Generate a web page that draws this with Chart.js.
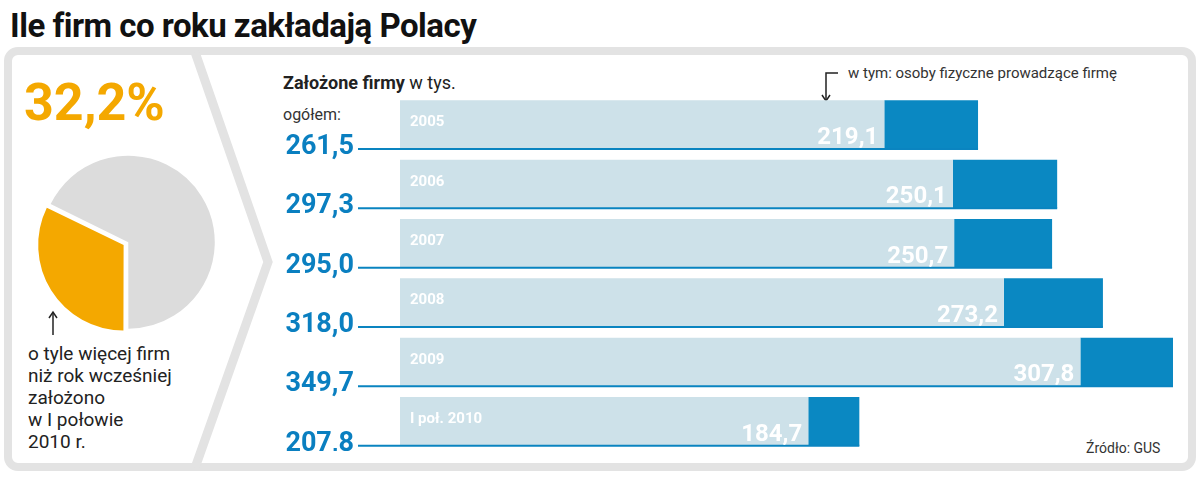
<!DOCTYPE html>
<html><head><meta charset="utf-8">
<script src="https://cdn.jsdelivr.net/npm/chart.js@4"></script>
<style>
body{margin:0;width:1200px;height:498px;background:#fff;font-family:Roboto,"Noto Sans",sans-serif;position:relative;overflow:hidden}
#title{position:absolute;left:10px;top:6px;font:bold 33px "Liberation Sans Narrow",Roboto,sans-serif;color:#111;letter-spacing:-0.5px}
#panel{position:absolute;left:4px;top:47px;width:1176px;height:408px;border:8px solid #e3e3e3;border-radius:14px}
#pct{position:absolute;left:24px;top:72px;font:bold 52px "Liberation Sans Narrow",Roboto,sans-serif;color:#f4a800}
#cap{position:absolute;left:28px;top:343px;font:19px "Liberation Sans Narrow",Roboto,sans-serif;color:#222;line-height:22px}
#head{position:absolute;left:283px;top:72px;font:18px Roboto,sans-serif;color:#222}
#note{position:absolute;left:848px;top:64px;font:15px Roboto,sans-serif;color:#333}
#src{position:absolute;left:1086px;top:440px;font:14px Roboto,sans-serif;color:#333}
#ogol{position:absolute;left:283px;top:105px;font:16px Roboto,sans-serif;color:#333}
#pieWrap{position:absolute;left:22px;top:138px;width:210px;height:210px}
#barWrap{position:absolute;left:270px;top:95px;width:910px;height:356px}
svg{position:absolute;left:0;top:0}
</style></head><body>
<div id="panel"></div>
<svg width="1200" height="498"><polyline points="195,52 268,262 195,468" fill="none" stroke="#e3e3e3" stroke-width="9"/>
<line x1="53" y1="313" x2="53" y2="335" stroke="#222" stroke-width="1.5"/><polyline points="49,318 53,312 57,318" fill="none" stroke="#222" stroke-width="1.5"/>
<polyline points="838,73 826,73 826,100" fill="none" stroke="#222" stroke-width="1.5"/><polyline points="822,95 826,101 830,95" fill="none" stroke="#222" stroke-width="1.5"/></svg>
<div id="title">Ile firm co roku zakładają Polacy</div>
<div id="pct">32,2%</div>
<div id="cap">o tyle więcej firm<br>niż rok wcześniej<br>założono<br>w I połowie<br>2010 r.</div>
<div id="head"><b>Założone firmy</b> w tys.</div>
<div id="note">w tym: osoby fizyczne prowadzące firmę</div>
<div id="ogol">ogółem:</div>
<div id="src">Źródło: GUS</div>
<div id="pieWrap"><canvas id="pie"></canvas></div>
<div id="barWrap"><canvas id="bar"></canvas></div>
<script>
const years=["2005","2006","2007","2008","2009","I poł. 2010"];
const totals=[261.5,297.3,295.0,318.0,349.7,207.8];
const persons=[219.1,250.1,250.7,273.2,307.8,184.7];
const pieValues=[67.8,32.2];
const fmt=v=>v.toFixed(1).replace('.',',');
const rest=totals.map((t,i)=>+(t-persons[i]).toFixed(1));
new Chart(document.getElementById('pie'),{type:'pie',
 data:{datasets:[{data:pieValues,backgroundColor:['#dcdcdc','#f4a800'],borderWidth:0,offset:[6,16]}]},
 options:{responsive:true,maintainAspectRatio:false,animation:false,rotation:-64,
  plugins:{legend:{display:false},tooltip:{enabled:false}},layout:{padding:12}}});
const deco={id:'deco',afterDatasetsDraw(c){
 const ctx=c.ctx,m0=c.getDatasetMeta(0),x=c.scales.x;
 m0.data.forEach((b,i)=>{
  const top=b.y-b.height/2,bot=b.y+b.height/2,end=x.getPixelForValue(totals[i]);
  ctx.save();ctx.strokeStyle='#0a84c0';ctx.lineWidth=2;ctx.beginPath();ctx.moveTo(88,bot);ctx.lineTo(end,bot);ctx.stroke();
  ctx.fillStyle='#0a7fc0';ctx.font='bold 27px "Liberation Sans Narrow",Roboto,sans-serif';ctx.textAlign='right';ctx.textBaseline='alphabetic';
  ctx.fillText(fmt(totals[i]),84,bot+5);
  ctx.fillStyle='#fff';ctx.font='bold 15px Roboto,sans-serif';ctx.textAlign='left';ctx.fillText(years[i],x.left+10,top+26);
  ctx.font='bold 24px "Liberation Sans Narrow",Roboto,sans-serif';ctx.textAlign='right';ctx.fillText(fmt(persons[i]),b.x-6,bot-5);
  ctx.restore();});}};
new Chart(document.getElementById('bar'),{type:'bar',
 data:{labels:years,datasets:[{data:persons,backgroundColor:'#cde1e9',barPercentage:0.82,categoryPercentage:1},
  {data:rest,backgroundColor:'#0a88c2',barPercentage:0.82,categoryPercentage:1}]},
 options:{indexAxis:'y',responsive:true,maintainAspectRatio:false,animation:false,
  layout:{padding:{left:130,right:7,top:0,bottom:0}},
  scales:{x:{stacked:true,min:0,max:349.7,display:false},y:{stacked:true,display:false}},
  plugins:{legend:{display:false},tooltip:{enabled:false}}},plugins:[deco]});
</script></body></html>
